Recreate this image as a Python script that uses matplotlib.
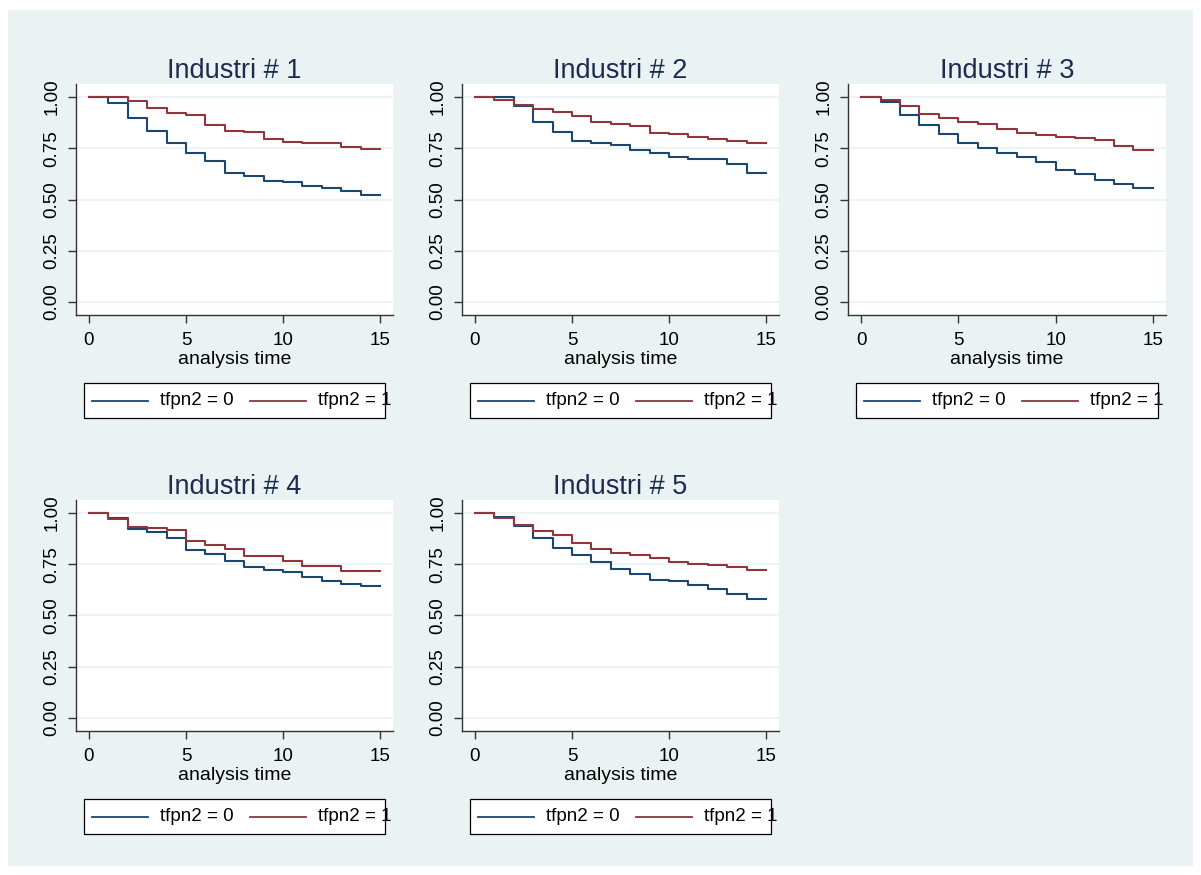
import matplotlib
matplotlib.use("Agg")
import matplotlib.pyplot as plt
from matplotlib.patches import Rectangle
from matplotlib.lines import Line2D

plt.rcParams['font.family'] = ['Liberation Sans', 'DejaVu Sans']

times = list(range(0, 16))
titles = ["Industri # 1", "Industri # 2", "Industri # 3", "Industri # 4", "Industri # 5"]
legend_labels = ["tfpn2 = 0", "tfpn2 = 1"]
xlabel = "analysis time"

# survival estimates at t=0..15 (step after each time)
s0_ind1 = [1.0, 0.971, 0.898, 0.833, 0.774, 0.727, 0.690, 0.631, 0.614, 0.591, 0.584, 0.568, 0.555, 0.539, 0.521, 0.521]
s1_ind1 = [1.0, 1.0, 0.982, 0.948, 0.924, 0.914, 0.862, 0.836, 0.828, 0.797, 0.781, 0.774, 0.773, 0.758, 0.744, 0.744]
s0_ind2 = [1.0, 1.0, 0.955, 0.880, 0.830, 0.787, 0.776, 0.765, 0.739, 0.726, 0.709, 0.696, 0.695, 0.675, 0.631, 0.631]
s1_ind2 = [1.0, 0.984, 0.959, 0.943, 0.927, 0.907, 0.880, 0.867, 0.857, 0.826, 0.820, 0.807, 0.794, 0.784, 0.776, 0.776]
s0_ind3 = [1.0, 0.974, 0.911, 0.862, 0.818, 0.774, 0.753, 0.727, 0.709, 0.682, 0.646, 0.625, 0.594, 0.576, 0.555, 0.555]
s1_ind3 = [1.0, 0.984, 0.955, 0.916, 0.899, 0.878, 0.867, 0.843, 0.826, 0.813, 0.807, 0.799, 0.792, 0.761, 0.742, 0.742]
s0_ind4 = [1.0, 0.974, 0.924, 0.909, 0.878, 0.817, 0.799, 0.765, 0.735, 0.722, 0.711, 0.690, 0.669, 0.654, 0.643, 0.643]
s1_ind4 = [1.0, 0.972, 0.932, 0.927, 0.917, 0.862, 0.844, 0.825, 0.791, 0.791, 0.768, 0.742, 0.742, 0.716, 0.716, 0.716]
s0_ind5 = [1.0, 0.981, 0.935, 0.880, 0.828, 0.797, 0.760, 0.727, 0.700, 0.675, 0.667, 0.648, 0.628, 0.607, 0.580, 0.580]
s1_ind5 = [1.0, 0.977, 0.940, 0.911, 0.890, 0.854, 0.826, 0.805, 0.795, 0.778, 0.760, 0.751, 0.745, 0.737, 0.721, 0.721]

series0 = [s0_ind1, s0_ind2, s0_ind3, s0_ind4, s0_ind5]
series1 = [s1_ind1, s1_ind2, s1_ind3, s1_ind4, s1_ind5]

BLUE = "#1a476f"
RED = "#90353b"
BG = "#eaf2f3"
TITLE_C = "#1c2b50"

W, H = 1201, 875
fig = plt.figure(figsize=(W / 100, H / 100), dpi=100)
fig.patch.set_facecolor("white")
fig.add_artist(Rectangle((8 / W, 1 - 866 / H), (1193 - 8) / W, (866 - 10) / H,
                         transform=fig.transFigure, facecolor=BG, edgecolor="none", zorder=0))

# panel pixel boxes: (left, right, top, bottom)
boxes = [(76, 393, 84, 315), (462, 779, 84, 315), (848, 1166, 84, 315),
         (76, 393, 500, 731), (462, 779, 500, 731)]

def fx(px):
    return px / W

def fy(py):
    return 1 - py / H

for i, (l, r, t, b) in enumerate(boxes):
    ax = fig.add_axes([fx(l), fy(b), (r - l) / W, (b - t) / H])
    ax.set_facecolor("white")
    ax.step(times, series0[i], where="post", color=BLUE, lw=1.5, zorder=3)
    ax.step(times, series1[i], where="post", color=RED, lw=1.5, zorder=3)
    ax.set_xlim(-0.67, 15.67)
    ax.set_ylim(-0.063, 1.063)
    ax.set_xticks([0, 5, 10, 15])
    ax.set_yticks([0, 0.25, 0.5, 0.75, 1.0])
    ax.set_yticklabels(["0.00", "0.25", "0.50", "0.75", "1.00"], rotation=90, va="center")
    ax.grid(axis="y", color=BG, lw=1.2, zorder=1)
    for s in ["top", "right"]:
        ax.spines[s].set_visible(False)
    for s in ["left", "bottom"]:
        ax.spines[s].set_color("#333333")
        ax.spines[s].set_linewidth(1.0)
    ax.tick_params(direction="out", length=6, width=1, color="#333333", labelsize=13.5, pad=5)
    ax.tick_params(axis="x", pad=6)
    ax.set_title(titles[i], fontsize=19.5, color=TITLE_C, pad=4)
    ax.set_xlabel(xlabel, fontsize=14, labelpad=2)

    # legend box
    lb_l, lb_r = l + 8, r - 8
    lb_t, lb_b = b + 68, b + 103
    ymid = (lb_t + lb_b) / 2
    fig.add_artist(Rectangle((fx(lb_l), fy(lb_b)), (lb_r - lb_l) / W, (lb_b - lb_t) / H,
                             transform=fig.transFigure, facecolor="white",
                             edgecolor="black", lw=0.9, zorder=2))
    fig.add_artist(Line2D([fx(lb_l + 8), fx(lb_l + 64)], [fy(ymid), fy(ymid)],
                          transform=fig.transFigure, color=BLUE, lw=1.3, zorder=3))
    fig.text(fx(lb_l + 76), fy(ymid), legend_labels[0], fontsize=13.5, va="center", ha="left", zorder=3)
    fig.add_artist(Line2D([fx(lb_l + 166), fx(lb_l + 222)], [fy(ymid), fy(ymid)],
                          transform=fig.transFigure, color=RED, lw=1.3, zorder=3))
    fig.text(fx(lb_l + 234), fy(ymid), legend_labels[1], fontsize=13.5, va="center", ha="left", zorder=3)

fig.savefig("out.png", dpi=100)
